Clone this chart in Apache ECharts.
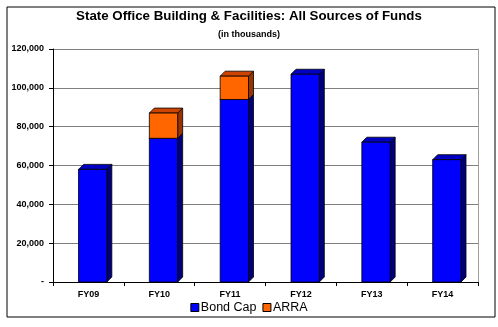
<!DOCTYPE html>
<html><head><meta charset="utf-8">
<script src="https://cdn.jsdelivr.net/npm/echarts@6/dist/echarts.min.js"></script>
<style>html,body{margin:0;padding:0;background:#fff}#c{width:498px;height:327px}</style>
</head><body><div id="c"></div>
<script>
const categories = ['FY09','FY10','FY11','FY12','FY13','FY14'];
const bondCap = [58000, 74000, 94000, 107000, 72000, 63000];
const arra = [0, 13000, 12000, 0, 0, 0];
const yTicks = [0, 20000, 40000, 60000, 80000, 100000, 120000];

const FONT = 'Liberation Sans, Arial, sans-serif';
function makeRender(front, side, top) {
  return function (params, api) {
    const x = api.value(0), lo = api.value(1), hi = api.value(2);
    if (hi <= lo) return null;
    const c = api.coord([x, hi]);
    const b = api.coord([x, lo]);
    const bw = api.size([1, 0])[0];
    const L = c[0] - bw * 0.14, R = L + bw * 0.40;
    const dx = 5, dy = 5, yt = c[1], yb = b[1];
    const st = {stroke: '#000', lineWidth: 0.8};
    return {type: 'group', children: [
      {type: 'polygon', shape: {points: [[R, yb], [R + dx, yb - dy], [R + dx, yt - dy], [R, yt]]}, style: Object.assign({fill: side}, st)},
      {type: 'polygon', shape: {points: [[L, yt], [L + dx, yt - dy], [R + dx, yt - dy], [R, yt]]}, style: Object.assign({fill: top}, st)},
      {type: 'rect', shape: {x: L, y: yt, width: R - L, height: yb - yt}, style: Object.assign({fill: front}, st)}
    ]};
  };
}
const bondData = categories.map((c, i) => [i, 0, bondCap[i]]);
const arraData = categories.map((c, i) => [i, bondCap[i], bondCap[i] + arra[i]]);

const chart = echarts.init(document.getElementById('c'));
chart.setOption({
  animation: false,
  backgroundColor: '#fff',
  title: {
    text: 'State Office Building & Facilities: All Sources of Funds',
    subtext: '(in thousands)',
    left: 'center', top: 5, itemGap: 7,
    textStyle: {fontFamily: FONT, fontSize: 13.3, fontWeight: 'bold', color: '#000'},
    subtextStyle: {fontFamily: FONT, fontSize: 9, fontWeight: 'bold', color: '#000'}
  },
  legend: {
    bottom: 8, left: 'center', itemWidth: 8, itemHeight: 8, itemGap: 6,
    icon: 'rect',
    textStyle: {fontFamily: FONT, fontSize: 12.5, color: '#000', padding: [0, 0, 0, -3]},
    itemStyle: {borderColor: '#000', borderWidth: 1},
    data: ['Bond Cap', 'ARRA']
  },
  grid: {left: 53, right: 20, top: 49, bottom: 45},
  xAxis: {
    type: 'category', data: categories,
    axisLine: {lineStyle: {color: '#000'}},
    axisTick: {show: true, interval: 0, length: 4, lineStyle: {color: '#000'}},
    axisLabel: {fontFamily: FONT, fontSize: 9, fontWeight: 'bold', color: '#000', margin: 8}
  },
  yAxis: [{
    type: 'value', min: yTicks[0], max: yTicks[yTicks.length - 1], interval: 20000,
    axisLine: {show: true, lineStyle: {color: '#000'}},
    axisTick: {show: true, length: 4, lineStyle: {color: '#000'}},
    splitLine: {lineStyle: {color: '#808080', width: 1}},
    axisLabel: {fontFamily: FONT, fontSize: 9, fontWeight: 'bold', color: '#000', margin: 9,
      formatter: v => v === 0 ? '-' : v.toLocaleString('en-US')}
  }, {
    type: 'value', min: yTicks[0], max: yTicks[yTicks.length - 1], interval: 20000, position: 'right',
    axisLine: {show: true, lineStyle: {color: '#a0a0a0'}},
    axisTick: {show: false}, axisLabel: {show: false}, splitLine: {show: false}
  }],
  series: [
    {name: 'Bond Cap', type: 'custom', renderItem: makeRender('#0000ff', '#00007a', '#0000c0'),
      itemStyle: {color: '#0000ff'}, encode: {x: 0, y: [1, 2]}, data: bondData},
    {name: 'ARRA', type: 'custom', renderItem: makeRender('#ff6600', '#993300', '#cc4400'),
      itemStyle: {color: '#ff6600'}, encode: {x: 0, y: [1, 2]}, data: arraData}
  ],
  graphic: [{type: 'rect', left: 4.5, top: 4.5, shape: {width: 488, height: 310},
    style: {fill: 'none', stroke: '#000', lineWidth: 1}, silent: true}]
});
</script></body></html>
